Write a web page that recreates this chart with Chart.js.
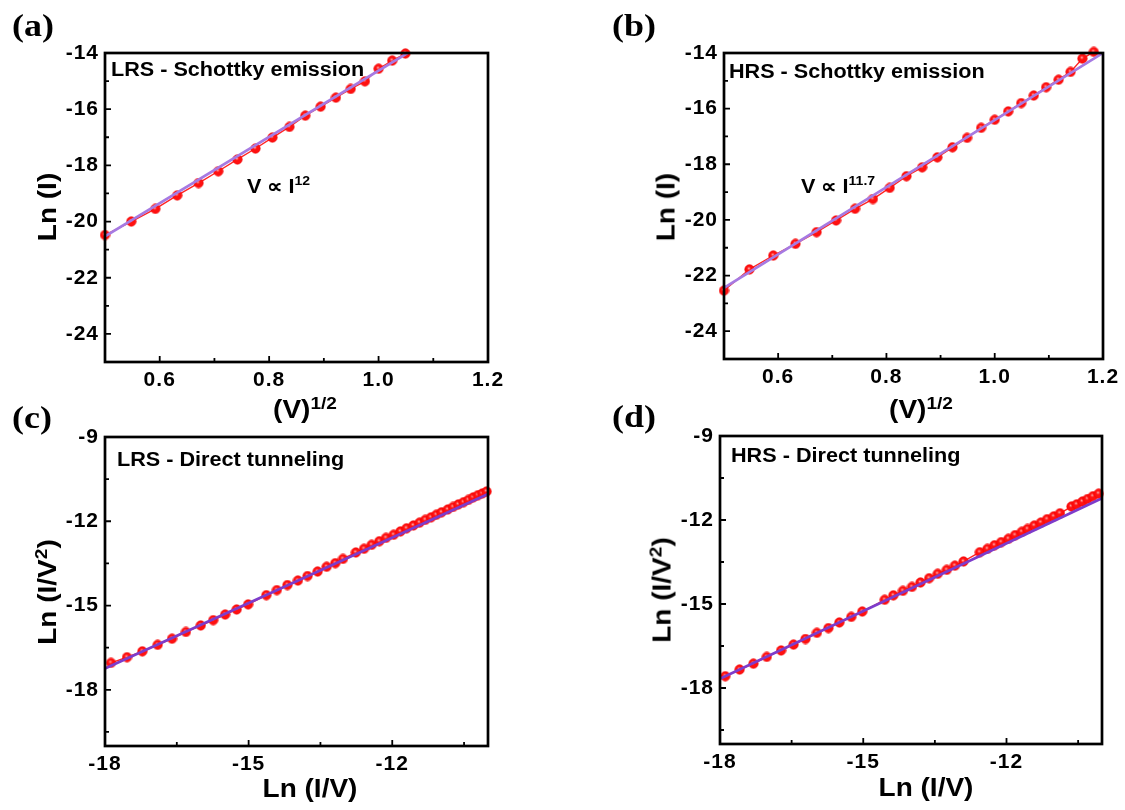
<!DOCTYPE html>
<html>
<head>
<meta charset="utf-8">
<script src="https://cdn.jsdelivr.net/npm/chart.js@4.4.1/dist/chart.umd.min.js"></script>
<style>
html,body{margin:0;padding:0;background:#fff;}
#wrap{position:relative;width:1125px;height:810px;overflow:hidden;background:#fff;font-family:"Liberation Sans",Arial,sans-serif;color:#000;}
canvas{position:absolute;}
.t{position:absolute;white-space:nowrap;line-height:1;font-weight:bold;}
.lbl{font-family:"Liberation Serif","Times New Roman",serif;font-size:31px;transform:scaleX(1.16);transform-origin:left top;}
.ann{transform-origin:left top;}
.yt{font-size:25px;transform:translate(-50%,-50%) rotate(-90deg) scaleX(1.12);}
.xt{font-size:25px;transform:translate(-50%,0) scaleX(1.12);transform-origin:center top;}
.sp{position:relative;}
</style>
</head>
<body>
<div id="wrap"></div>
<script>
// ---------------- data ----------------
// (a) LRS - Schottky emission : x = V^(1/2), y = Ln(I)
const aX = [0.5, 0.548, 0.592, 0.632, 0.671, 0.707, 0.742, 0.775, 0.806, 0.837, 0.866, 0.894, 0.922, 0.949, 0.975, 1.0, 1.025, 1.049];
const aY = [-20.48, -20.00, -19.55, -19.07, -18.63, -18.21, -17.79, -17.40, -17.01, -16.63, -16.23, -15.91, -15.59, -15.28, -15.01, -14.56, -14.27, -14.02];
const aFitX = [0.5, 1.053];
const aFitY = [-20.53, -14.0];

// (b) HRS - Schottky emission
const bX = [0.5, 0.547, 0.591, 0.632, 0.671, 0.707, 0.742, 0.775, 0.806, 0.837, 0.866, 0.894, 0.922, 0.949, 0.975, 1.0, 1.025, 1.049, 1.072, 1.095, 1.118, 1.140, 1.162, 1.183];
const bY = [-22.54, -21.78, -21.28, -20.86, -20.44, -20.02, -19.60, -19.25, -18.85, -18.43, -18.11, -17.75, -17.39, -17.05, -16.69, -16.40, -16.10, -15.80, -15.53, -15.23, -14.96, -14.68, -14.20, -13.96];
const bFitX = [0.5, 1.2];
const bFitY = [-22.44, -14.0];

// (c) LRS - Direct tunneling : x = Ln(I/V), y = Ln(I/V^2)
const cX = [-17.875, -17.54, -17.22, -16.90, -16.60, -16.31, -16.00, -15.74, -15.49, -15.25, -15.01, -14.63, -14.41, -14.19, -13.97, -13.77, -13.56, -13.37, -13.19, -13.03, -12.76, -12.59, -12.43, -12.27, -12.13, -11.97, -11.83, -11.70, -11.56, -11.43, -11.31, -11.19, -11.08, -10.97, -10.84, -10.73, -10.62, -10.51, -10.41, -10.31, -10.21, -10.12, -10.03];
const cY = [-17.04, -16.84, -16.63, -16.40, -16.18, -15.94, -15.71, -15.52, -15.32, -15.14, -14.96, -14.63, -14.45, -14.27, -14.11, -13.95, -13.79, -13.62, -13.49, -13.34, -13.11, -12.98, -12.84, -12.71, -12.59, -12.48, -12.36, -12.25, -12.15, -12.05, -11.95, -11.86, -11.77, -11.68, -11.58, -11.49, -11.40, -11.32, -11.24, -11.15, -11.07, -11.01, -10.94];
const cFitX = [-18, -10];
const cFitY = [-17.24, -11.03];

// (d) HRS - Direct tunneling
const dX = [-17.89, -17.59, -17.30, -17.02, -16.72, -16.46, -16.21, -15.97, -15.73, -15.50, -15.25, -15.02, -14.55, -14.37, -14.17, -13.98, -13.80, -13.62, -13.44, -13.25, -13.08, -12.90, -12.56, -12.40, -12.25, -12.11, -11.96, -11.82, -11.68, -11.56, -11.42, -11.28, -11.15, -11.01, -10.88, -10.64, -10.53, -10.41, -10.30, -10.19, -10.07];
const dY = [-17.58, -17.34, -17.13, -16.89, -16.66, -16.45, -16.25, -16.03, -15.86, -15.66, -15.46, -15.27, -14.85, -14.69, -14.53, -14.39, -14.23, -14.08, -13.92, -13.78, -13.63, -13.48, -13.15, -13.03, -12.90, -12.79, -12.67, -12.54, -12.42, -12.32, -12.20, -12.09, -11.97, -11.87, -11.76, -11.52, -11.44, -11.34, -11.25, -11.15, -11.06];
const dFitX = [-18, -10];
const dFitY = [-17.67, -11.22];

// tick labels
const abXTicks = [0.6, 0.8, 1.0, 1.2];
const abXMinor = [0.7, 0.9, 1.1];
const abYTicks = [-24, -22, -20, -18, -16, -14];
const abYMinor = [-23, -21, -19, -17, -15];
const cdXTicks = [-18, -15, -12];
const cdXMinor = [-16.5, -13.5, -10.5];
const cdYTicks = [-18, -15, -12, -9];
const cdYMinor = [-19.5, -16.5, -13.5, -10.5];

// ---------------- drawing ----------------
const wrap = document.getElementById('wrap');

function makeSphere(){
  const c = document.createElement('canvas');
  c.width = c.height = 11;
  const g = c.getContext('2d');
  g.beginPath(); g.arc(5.5,5.5,4.7,0,Math.PI*2);
  g.fillStyle = '#ff1010'; g.fill();
  g.lineWidth = 0.7; g.strokeStyle = '#f00000'; g.stroke();
  const rg = g.createRadialGradient(4.9,4.5,0,4.9,4.5,2.4);
  rg.addColorStop(0,'rgba(255,225,225,0.9)');
  rg.addColorStop(1,'rgba(255,60,60,0)');
  g.fillStyle = rg; g.beginPath(); g.arc(4.9,4.5,2.4,0,Math.PI*2); g.fill();
  return c;
}
const sphere = makeSphere();

const framePlugin = {
  id: 'frame',
  beforeUpdate(chart){ chart.ctx.letterSpacing = '1px'; },
  beforeDraw(chart){ chart.ctx.letterSpacing = '1px'; },
  afterDraw(chart, args, o){
    const ctx = chart.ctx, a = chart.chartArea, xs = chart.scales.x, ys = chart.scales.y;
    ctx.save();
    ctx.strokeStyle = '#000';
    ctx.lineWidth = 1.8;
    ctx.beginPath();
    o.xt.forEach(v => { const p = xs.getPixelForValue(v); ctx.moveTo(p, a.bottom); ctx.lineTo(p, a.bottom - 6); });
    o.xm.forEach(v => { const p = xs.getPixelForValue(v); ctx.moveTo(p, a.bottom); ctx.lineTo(p, a.bottom - 4); });
    o.yt.forEach(v => { const p = ys.getPixelForValue(v); ctx.moveTo(a.left, p); ctx.lineTo(a.left + 6, p); });
    o.ym.forEach(v => { const p = ys.getPixelForValue(v); ctx.moveTo(a.left, p); ctx.lineTo(a.left + 4, p); });
    ctx.stroke();
    ctx.lineWidth = 2.7;
    ctx.strokeRect(a.left, a.top, a.right - a.left, a.bottom - a.top);
    ctx.restore();
  }
};

const PANELS = [
  {box:[105,53,488,362],  x:aX, y:aY, fx:aFitX, fy:aFitY, xr:[0.5,1.2], yr:[-25,-14], xt:abXTicks, xm:abXMinor, yt:abYTicks, ym:abYMinor, fit:'#a67ae2', dec:1},
  {box:[724,53,1103,359], x:bX, y:bY, fx:bFitX, fy:bFitY, xr:[0.5,1.2], yr:[-25,-14], xt:abXTicks, xm:abXMinor, yt:abYTicks, ym:abYMinor, fit:'#a67ae2', dec:1},
  {box:[105,437,488,746], x:cX, y:cY, fx:cFitX, fy:cFitY, xr:[-18,-10], yr:[-20,-9], xt:cdXTicks, xm:cdXMinor, yt:cdYTicks, ym:cdYMinor, fit:'#7d3ccb', dec:0},
  {box:[720,436,1102,744],x:dX, y:dY, fx:dFitX, fy:dFitY, xr:[-18,-10], yr:[-20,-9], xt:cdXTicks, xm:cdXMinor, yt:cdYTicks, ym:cdYMinor, fit:'#7d3ccb', dec:0}
];

const PADL = 100, PADT = 20, PADR = 24, PADB = 45;
const tickFont = {family:'"Liberation Sans", Arial, sans-serif', weight:'bold', size:21};

PANELS.forEach(p => {
  const [l,t,r,b] = p.box;
  const w = r - l + PADL + PADR, h = b - t + PADT + PADB;
  const cv = document.createElement('canvas');
  cv.width = w; cv.height = h;
  cv.style.left = (l - PADL) + 'px'; cv.style.top = (t - PADT) + 'px';
  cv.style.width = w + 'px'; cv.style.height = h + 'px';
  wrap.appendChild(cv);
  new Chart(cv, {
    type: 'scatter',
    data: {datasets: [
      {data: p.fx.map((x,k) => ({x, y: p.fy[k]})), showLine: true, borderColor: p.fit, borderWidth: 2.7, pointRadius: 0, order: 0},
      {data: p.x.map((x,k) => ({x, y: p.y[k]})), showLine: true, borderColor: '#ff2424', borderWidth: 1.4,
       pointStyle: sphere, pointRadius: 4.7, clip: false, order: 1}
    ]},
    options: {
      responsive: false, animation: false, devicePixelRatio: 1, events: [],
      layout: {padding: {left: 0, top: PADT, right: PADR, bottom: 0}},
      plugins: {legend: {display: false}, tooltip: {enabled: false},
                frame: {xt: p.xt, xm: p.xm, yt: p.yt, ym: p.ym}},
      scales: {
        x: {type: 'linear', min: p.xr[0], max: p.xr[1],
            afterBuildTicks: s => { s.ticks = p.xt.map(v => ({value: v})); },
            afterFit: s => { s.height = PADB; },
            grid: {display: false, drawTicks: false}, border: {display: false},
            ticks: {color: '#000', font: tickFont, padding: 6, autoSkip: false, maxRotation: 0,
                    callback: v => Number(v).toFixed(p.dec)}},
        y: {type: 'linear', min: p.yr[0], max: p.yr[1],
            afterBuildTicks: s => { s.ticks = p.yt.map(v => ({value: v})); },
            afterFit: s => { s.width = PADL; },
            grid: {display: false, drawTicks: false}, border: {display: false},
            ticks: {color: '#000', font: tickFont, padding: 6, autoSkip: false,
                    callback: v => Number(v).toFixed(0)}}
      }
    },
    plugins: [framePlugin]
  });
});

// ---------------- text overlays ----------------
function addText(html, cls, style){
  const d = document.createElement('div');
  d.className = 't ' + cls;
  d.innerHTML = html;
  Object.assign(d.style, style);
  wrap.appendChild(d);
}
addText('(a)', 'lbl', {left:'12px', top:'10px'});
addText('(b)', 'lbl', {left:'612px', top:'10px'});
addText('(c)', 'lbl', {left:'12px', top:'402px'});
addText('(d)', 'lbl', {left:'612px', top:'401px'});

addText('LRS - Schottky emission', 'ann', {left:'111px', top:'59px', fontSize:'20px', transform:'scaleX(1.08)'});
addText('HRS - Schottky emission', 'ann', {left:'729px', top:'61px', fontSize:'20px', transform:'scaleX(1.08)'});
addText('LRS - Direct tunneling', 'ann', {left:'117px', top:'448px', fontSize:'21px', transform:'scaleX(1.03)'});
addText('HRS - Direct tunneling', 'ann', {left:'731px', top:'444px', fontSize:'21px', transform:'scaleX(1.03)'});

addText('V \u221D I<span class="sp" style="font-size:13px;top:-8px">12</span>', 'ann', {left:'247px', top:'176px', fontSize:'20px', transform:'scaleX(1.08)'});
addText('V \u221D I<span class="sp" style="font-size:13px;top:-8px">11.7</span>', 'ann', {left:'801px', top:'176px', fontSize:'20px', transform:'scaleX(1.08)'});

addText('Ln (I)', 'yt', {left:'47px', top:'207px'});
addText('Ln (I)', 'yt', {left:'666px', top:'207px'});
addText('Ln (I/V<span class="sp" style="font-size:17px;top:-9px">2</span>)', 'yt', {left:'47px', top:'592px'});
addText('Ln (I/V<span class="sp" style="font-size:17px;top:-9px">2</span>)', 'yt', {left:'662px', top:'590px'});

addText('(V)<span class="sp" style="font-size:17px;top:-9px">1/2</span>', 'xt', {left:'305px', top:'397px'});
addText('(V)<span class="sp" style="font-size:17px;top:-9px">1/2</span>', 'xt', {left:'921px', top:'397px'});
addText('Ln (I/V)', 'xt', {left:'310px', top:'776px'});
addText('Ln (I/V)', 'xt', {left:'926px', top:'775px'});
</script>
</body>
</html>
